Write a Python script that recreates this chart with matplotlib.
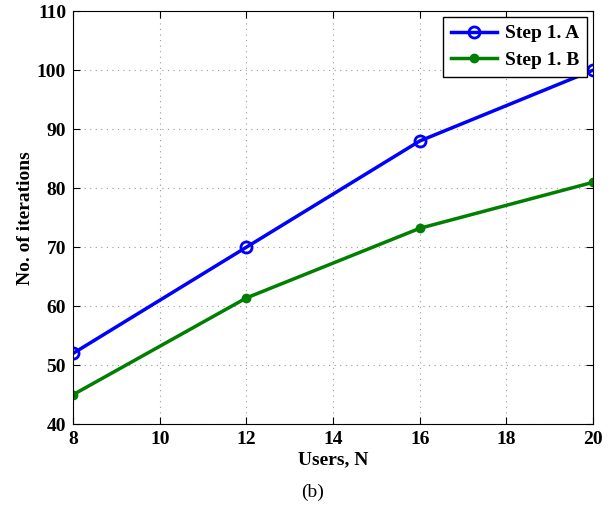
import numpy as np
import matplotlib.pyplot as plt

users = [8, 12, 16, 20]
step_a = [52, 70, 88, 100]
step_b = [45, 61.4, 73.2, 81]

plt.rcParams['font.family'] = ['Liberation Serif', 'DejaVu Serif']
plt.rcParams['font.weight'] = 'bold'

fig = plt.figure(figsize=(6.14, 5.08), dpi=100)
ax = fig.add_axes([0.119, 0.165, 0.847, 0.813])

ax.plot(users, step_a, color='#0000ff', lw=2.5, marker='o', ms=8,
        mfc='none', mec='#0000ff', mew=2, label='Step 1. A')
ax.plot(users, step_b, color='#007f00', lw=2.5, marker='o', ms=6,
        mfc='#007f00', mec='#007f00', label='Step 1. B')

ax.set_xlim(8, 20)
ax.set_ylim(40, 110)
ax.set_xticks(np.arange(8, 21, 2))
ax.set_yticks(np.arange(40, 111, 10))
ax.tick_params(direction='in', top=True, right=True, labelsize=14, length=5, pad=5)
for lab in ax.get_xticklabels() + ax.get_yticklabels():
    lab.set_fontweight('bold')
ax.grid(True, linestyle=(0, (1, 4)), color='#999999', lw=0.8)

ax.set_xlabel('Users, N', fontsize=14, fontweight='bold', labelpad=2)
ax.set_ylabel('No. of iterations', fontsize=14, fontweight='bold', labelpad=2)

leg = ax.legend(loc='upper right', fontsize=14, fancybox=False, framealpha=1,
                edgecolor='black', borderaxespad=0.3, handlelength=2.4,
                handletextpad=0.4, labelspacing=0.45, borderpad=0.4)
leg.get_frame().set_linewidth(1)
for t in leg.get_texts():
    t.set_fontweight('bold')

fig.text(313 / 614, 1 - 492 / 508, '(b)', ha='center', va='center',
         fontsize=14, fontweight='normal')

fig.savefig('out.png', dpi=100)
